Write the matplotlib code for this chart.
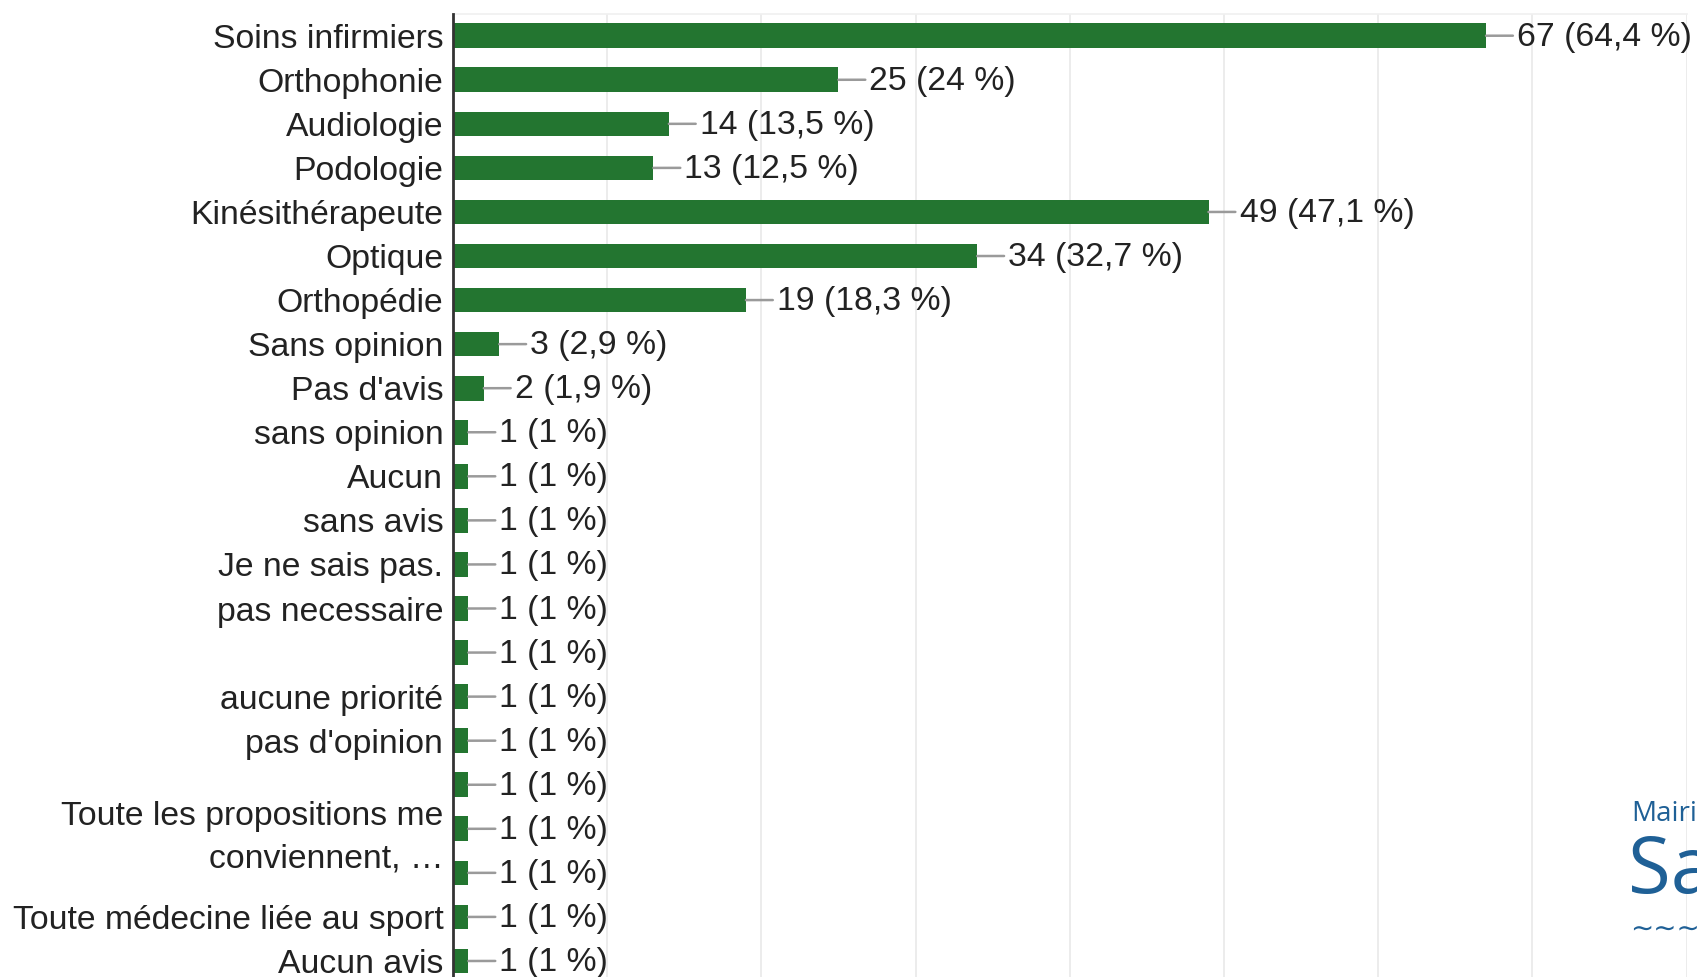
import matplotlib
matplotlib.use("Agg")
import matplotlib.pyplot as plt

plt.rcParams['font.family'] = ['Liberation Sans', 'DejaVu Sans']

categories = [
    "Soins infirmiers", "Orthophonie", "Audiologie", "Podologie",
    "Kinésithérapeute", "Optique", "Orthopédie", "Sans opinion",
    "Pas d'avis", "sans opinion", "Aucun", "sans avis",
    "Je ne sais pas.", "pas necessaire", "", "aucune priorité",
    "pas d'opinion", "", "Toute les propositions me\nconviennent, …", "",
    "Toute médecine liée au sport", "Aucun avis",
]
counts = [67, 25, 14, 13, 49, 34, 19, 3, 2, 1, 1, 1, 1, 1, 1, 1, 1, 1, 1, 1, 1, 1]
percents = ["64,4", "24", "13,5", "12,5", "47,1", "32,7", "18,3", "2,9", "1,9",
            "1", "1", "1", "1", "1", "1", "1", "1", "1", "1", "1", "1", "1"]
xticks = [0, 10, 20, 30, 40, 50, 60, 70, 80]

W, H = 1697, 977
fig = plt.figure(figsize=(W / 100, H / 100), dpi=100)
left = 453 / W
right = 1686.5 / W
top = 1 - 13.7 / H
ax = fig.add_axes([left, 0, right - left, top])

bar_color = "#237530"
text_color = "#222222"
fs = 24.3
ys = list(range(len(categories)))
ax.barh(ys, counts, height=0.56, color=bar_color, zorder=3)

ax.set_xlim(0, 80)
ax.set_ylim(21 + (977 - 961) / 44.06, -0.5)
ax.set_xticks(xticks)
ax.tick_params(axis='x', length=0, labelbottom=False)
ax.grid(axis='x', color="#ececec", linewidth=1.4, zorder=0)
ax.set_axisbelow(True)
ax.set_yticks(ys)
ax.set_yticklabels(categories, fontsize=fs, color=text_color, linespacing=1.45)
ax.tick_params(axis='y', length=0, pad=7)

for s in ['right', 'bottom']:
    ax.spines[s].set_visible(False)
ax.spines['top'].set_color("#f0f0f0")
ax.spines['top'].set_linewidth(1.2)
ax.spines['left'].set_color("#333333")
ax.spines['left'].set_linewidth(2)
ax.spines['left'].set_zorder(5)

for y, c, p in zip(ys, counts, percents):
    ax.annotate(f"{c} ({p} %)", xy=(c, y), xytext=(31, -1.5), textcoords='offset pixels',
                ha='left', va='center', fontsize=fs, color=text_color,
                arrowprops=dict(arrowstyle='-', color="#9a9a9a", lw=1.8,
                                shrinkA=1, shrinkB=0, relpos=(0, 0.55)),
                annotation_clip=False, zorder=4)

# Logo, partially visible at right edge (cropped as in the source screenshot)
logo_color = "#1f6096"
fig.text(1631 / W, 1 - 814 / H, "Mairie", fontsize=20, color=logo_color,
         family=['Open Sans', 'DejaVu Sans'], ha='left', va='center')
fig.text(1628 / W, 1 - 872 / H, "Sa", fontsize=56, color=logo_color,
         family=['Open Sans', 'DejaVu Sans'], ha='left', va='center')
fig.text(1630 / W, 1 - 928 / H, "∼∼∼∼", fontsize=20, color=logo_color,
         family=['DejaVu Sans'], ha='left', va='center')

fig.savefig("out.png", dpi=100, facecolor="white")
